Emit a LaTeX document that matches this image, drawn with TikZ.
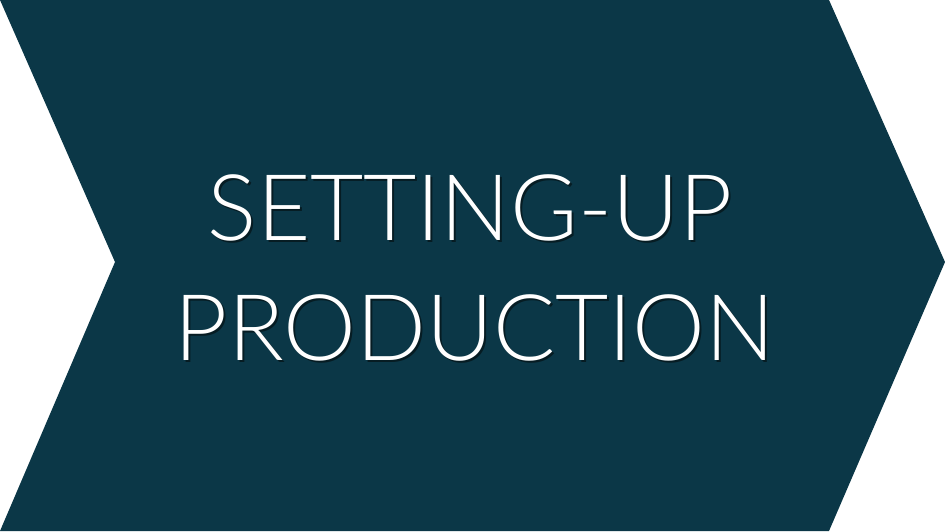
\documentclass[tikz,border=0pt]{standalone}
\usepackage{fontspec}
\setmainfont{Lato Light}
\definecolor{chev}{HTML}{0B3747}
\colorlet{shadowc}{chev!50!black}
\newcommand\shadowedtext[1]{\makebox[0pt][l]{\hspace{2pt}\raisebox{-2pt}{\textcolor{shadowc}{#1}}}#1}
\begin{document}
\begin{tikzpicture}[x=1pt,y=-1pt,
  lbl/.style={anchor=base,text=white,inner sep=0pt,font=\fontsize{92}{92}\selectfont}]
\useasboundingbox (0,0) rectangle (945,531);
\fill[chev] (0,0) -- (829,0) -- (945,262) -- (829,531) -- (0,531) -- (115,262) -- cycle;
\node[lbl] (l1) at (470,240) {\shadowedtext{SETTING-UP}};
\node[lbl] (l2) at (475,360) {\shadowedtext{PRODUCTION}};
\end{tikzpicture}
\end{document}
